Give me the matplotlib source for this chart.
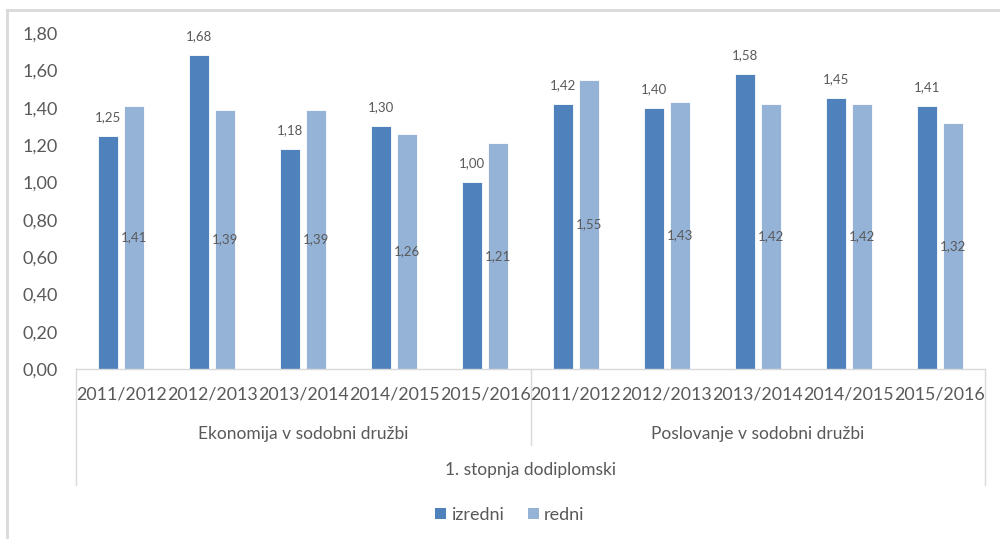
import matplotlib
matplotlib.use("Agg")
import matplotlib.pyplot as plt
import matplotlib.transforms as mtransforms
from matplotlib.lines import Line2D
from matplotlib.patches import Patch
import numpy as np

plt.rcParams["font.family"] = ["Lato", "DejaVu Sans"]

years = ["2011/2012", "2012/2013", "2013/2014", "2014/2015", "2015/2016"]
programmes = ["Ekonomija v sodobni družbi", "Poslovanje v sodobni družbi"]
level = "1. stopnja dodiplomski"
izredni = [1.25, 1.68, 1.18, 1.30, 1.00, 1.42, 1.40, 1.58, 1.45, 1.41]
redni = [1.41, 1.39, 1.39, 1.26, 1.21, 1.55, 1.43, 1.42, 1.42, 1.32]
yticks = [0, 0.2, 0.4, 0.6, 0.8, 1.0, 1.2, 1.4, 1.6, 1.8]

c_izr = "#4F81BD"
c_red = "#95B3D7"
txt = "#595959"
grid_c = "#D9D9D9"


def fmt(v):
    return f"{v:.2f}".replace(".", ",")


fig = plt.figure(figsize=(10, 5.39), dpi=100)
ax = fig.add_axes([0.076, 0.3154, 0.909, 0.6234])

x = np.arange(len(izredni))
w = 0.22
off = 0.143
ax.bar(x - off, izredni, w, color=c_izr, edgecolor="white", linewidth=0.6)
ax.bar(x + off, redni, w, color=c_red, edgecolor="white", linewidth=0.6)

for xi, v in zip(x, izredni):
    ax.annotate(fmt(v), (xi - off, v), xytext=(0, 13.5), textcoords="offset points",
                ha="center", va="center", fontsize=9.5, color=txt)
for xi, v in zip(x, redni):
    ax.text(xi + off, v / 2, fmt(v), ha="center", va="center", fontsize=9.5, color=txt)

ax.set_xlim(-0.5, len(izredni) - 0.5)
ax.set_ylim(0, 1.8)
ax.set_yticks(yticks)
ax.set_yticklabels([fmt(v) for v in yticks], fontsize=13, color=txt)
ax.tick_params(axis="y", length=0, pad=13)
ax.set_xticks([])
for s in ["top", "right", "left"]:
    ax.spines[s].set_visible(False)
ax.spines["bottom"].set_color(grid_c)
ax.spines["bottom"].set_linewidth(1)

tr = mtransforms.blended_transform_factory(ax.transData, ax.transAxes)
h = ax.bbox.height  # pixels


def ay(py):
    # pixel offset below axis bottom -> axes fraction
    return -py / h


# year labels
for i in range(len(izredni)):
    ax.text(i, ay(26), years[i % len(years)], transform=tr, ha="center", va="center",
            fontsize=12.8, color=txt)
# programme labels
for g, name in enumerate(programmes):
    ax.text(g * 5 + 2, ay(65), name, transform=tr, ha="center", va="center",
            fontsize=12.5, color=txt)
ax.text(4.5, ay(101), level, transform=tr, ha="center", va="center", fontsize=12.5, color=txt)

# category separators
for xv, depth in [(-0.5, 116), (4.5, 76), (9.5, 116)]:
    ax.add_line(Line2D([xv, xv], [0, ay(depth)], transform=tr, color=grid_c,
                       linewidth=1, clip_on=False))

# outer chart frame (top and left visible)
fig.add_artist(Line2D([0.007, 1.0], [1 - 10 / 539, 1 - 10 / 539], transform=fig.transFigure,
                      color=grid_c, linewidth=2))
fig.add_artist(Line2D([0.007, 0.007], [0, 1 - 10 / 539], transform=fig.transFigure,
                      color=grid_c, linewidth=2))

handles = [Patch(facecolor=c_izr, label="izredni"), Patch(facecolor=c_red, label="redni")]
fig.legend(handles=handles, loc="center", bbox_to_anchor=(0.51, 1 - 515 / 539), ncol=2,
           frameon=False, fontsize=13, handlelength=0.6, handleheight=0.6,
           handletextpad=0.3, columnspacing=1.3, labelcolor=txt)

fig.savefig("out.png", dpi=100, facecolor="white")
